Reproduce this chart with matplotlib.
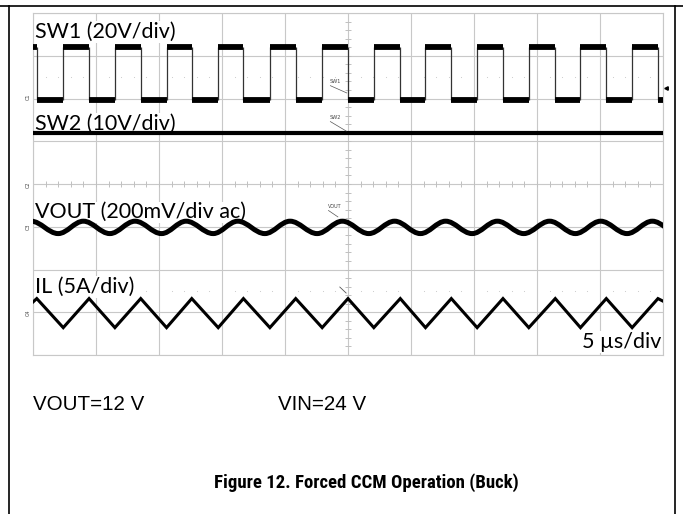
import matplotlib.pyplot as plt
import numpy as np
from matplotlib.path import Path
from matplotlib.patches import PathPatch
from matplotlib.lines import Line2D

# screen is 10 x 8 divisions, time in div (5 us/div), amplitude in div
sw1_fall = [0.06, 0.89, 1.71, 2.52, 3.34, 4.17, 5.00, 5.83, 6.64, 7.46, 8.29, 9.10, 9.92]
sw1_rise = [0.48, 1.30, 2.12, 2.94, 3.76, 4.59, 5.41, 6.23, 7.05, 7.87, 8.69, 9.51]
sw1_high = 7.20
sw1_low = 5.97

sw2_level = 5.19

vout_peak_t = [-0.03, 0.80, 1.62, 2.43, 3.25, 4.08, 4.91, 5.74, 6.55, 7.37, 8.20, 9.01, 9.83]
vout_trough_t = [0.40, 1.22, 2.04, 2.86, 3.68, 4.51, 5.33, 6.15, 6.97, 7.79, 8.61, 9.43, 10.25]
vout_peak = 3.13
vout_trough = 2.84

il_peak = 1.32
il_trough = 0.64
il_start = 1.24
il_end = 1.26

labels = ["SW1 (20V/div)", "SW2 (10V/div)", "VOUT (200mV/div ac)", "IL (5A/div)"]
label_y = [7.415, 5.26, 3.20, 1.45]
chan_names = ["C1", "C2", "C3", "C4"]
chan_y = [6.03, 3.98, 2.99, 0.98]

W, H = 683, 514
fig = plt.figure(figsize=(W / 100, H / 100), dpi=100)
ax = fig.add_axes([33 / W, 159 / H, 630 / W, 342 / H])
ax.set_xlim(0, 10)
ax.set_ylim(0, 8)
ax.set_xticks(np.arange(11))
ax.set_yticks(np.arange(9))
ax.tick_params(length=0, labelbottom=False, labelleft=False)
ax.grid(color="#c8c8c8", lw=0.8)
ax.set_axisbelow(True)
for s in ax.spines.values():
    s.set_color("#c8c8c8")
    s.set_linewidth(0.8)

# minor ticks on the centre lines
sub = np.arange(0, 10.01, 0.2)
ax.vlines(sub, 4 - 0.07, 4 + 0.07, color="#c0c0c0", lw=0.7)
subv = np.arange(0, 8.01, 0.2)
ax.hlines(subv, 5 - 0.05, 5 + 0.05, color="#c0c0c0", lw=0.7)
dots = [x for x in sub if abs(x - round(x)) > 0.01]
for yy in (6.5, 1.5):
    ax.scatter(dots, [yy] * len(dots), s=0.6, color="#c8c8c8", lw=0)

# SW1 square wave
edges = sorted([(t, "f") for t in sw1_fall] + [(t, "r") for t in sw1_rise])
prev_t, prev_lvl = 0.0, sw1_high
for t, kind in edges:
    ax.hlines(prev_lvl, prev_t, t, color="black", lw=4.2, zorder=3)
    ax.vlines(t, sw1_low, sw1_high, color="#333333", lw=0.9, zorder=3)
    prev_t = t
    prev_lvl = sw1_low if kind == "f" else sw1_high
ax.hlines(prev_lvl, prev_t, 10, color="black", lw=4.2, zorder=3)

# SW2 flat
ax.hlines(sw2_level, 0, 10, color="black", lw=3.0, zorder=3)

# VOUT ripple, smooth segments between extremes
ext = sorted([(t, vout_peak) for t in vout_peak_t] + [(t, vout_trough) for t in vout_trough_t])
verts = [ext[0]]
codes = [Path.MOVETO]
k = 0.36
for (t0, v0), (t1, v1) in zip(ext[:-1], ext[1:]):
    d = t1 - t0
    verts += [(t0 + k * d, v0), (t1 - k * d, v1), (t1, v1)]
    codes += [Path.CURVE4] * 3
ax.add_patch(PathPatch(Path(verts, codes), fill=False, ec="black", lw=3.6,
                       zorder=3, capstyle="butt", joinstyle="round"))

# IL triangle
il_pts = sorted([(t, il_peak) for t in sw1_fall] + [(t, il_trough) for t in sw1_rise])
il_t = [0.0] + [p[0] for p in il_pts] + [10.0]
il_v = [il_start] + [p[1] for p in il_pts] + [il_end]
ax.plot(il_t, il_v, color="black", lw=2.2, zorder=3, solid_joinstyle="miter")

lab_font = ["Lato", "DejaVu Sans"]
for txt, yy in zip(labels, label_y):
    ax.text(0.03, yy, txt, fontsize=15.5, family=lab_font, va="baseline", ha="left",
            zorder=2.5, bbox=dict(fc="white", ec="none", pad=0.5))
ax.text(9.97, 0.164, "5 \u00b5s/div", fontsize=15.5, family=lab_font, va="baseline",
        ha="right", zorder=2.5, bbox=dict(fc="white", ec="none", pad=0.5))

# small scope markers
small = dict(fontsize=3.6, color="#444444", zorder=4)
ax.text(4.71, 6.34, "SW1", ha="left", va="bottom", **small)
ax.plot([4.72, 4.98], [6.30, 6.13], color="#555555", lw=0.5, zorder=4)
ax.text(4.71, 5.50, "SW2", ha="left", va="bottom", **small)
ax.plot([4.72, 4.97], [5.46, 5.24], color="#555555", lw=0.5, zorder=4)
ax.text(4.68, 3.42, "VOUT", ha="left", va="bottom", **small)
ax.plot([4.69, 4.84], [3.38, 3.23], color="#555555", lw=0.5, zorder=4)
ax.plot([4.87, 4.97], [1.59, 1.45], color="#555555", lw=0.6, zorder=4)
for nm, yy in zip(chan_names, chan_y):
    ax.text(-0.08, yy, nm, rotation=90, ha="center", va="center", clip_on=False, **small)
ax.plot([10.04], [6.25], marker="<", ms=2.5, color="black", clip_on=False, zorder=4)

# page frame
fig.add_artist(Line2D([0, 1], [1 - 6 / H, 1 - 6 / H], color="black", lw=1.2))
fig.add_artist(Line2D([9 / W, 9 / W], [0, 1 - 6 / H], color="black", lw=1.2))
fig.add_artist(Line2D([675 / W, 675 / W], [0, 1 - 6 / H], color="black", lw=1.2))

fig.text(33 / W, 1 - 404 / H, "VOUT=12 V", fontsize=14.8, family="Liberation Sans",
         ha="left", va="center")
fig.text(278 / W, 1 - 404 / H, "VIN=24 V", fontsize=14.8, family="Liberation Sans",
         ha="left", va="center")
fig.text(366 / W, 1 - 483 / H, "Figure 12. Forced CCM Operation (Buck)",
         fontsize=13.5, family=["Roboto Condensed", "Liberation Sans"],
         stretch="condensed", weight="bold", ha="center", va="center")

fig.savefig("out.png", dpi=100)
